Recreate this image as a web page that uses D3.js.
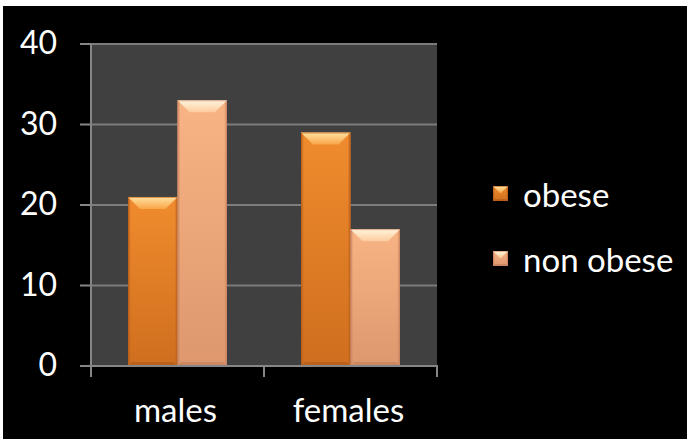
<!DOCTYPE html>
<html>
<head>
<meta charset="utf-8">
<script src="https://cdn.jsdelivr.net/npm/d3@7"></script>
<style>
  html, body { margin: 0; padding: 0; background: #ffffff; }
  svg { display: block; }
  text { font-family: Lato, "Open Sans", sans-serif; fill: #ffffff; }
</style>
</head>
<body>
<svg id="chart" width="687" height="441"></svg>
<script>
// ---- data ----
const categories = ["males", "females"];
const seriesNames = ["obese", "non obese"];
const obeseValues = [21, 29];
const nonObeseValues = [33, 17];
const yTickValues = [0, 10, 20, 30, 40];

const seriesValues = [obeseValues, nonObeseValues];

// ---- styles ----
const palettes = [
  { // obese
    bodyTop: "#F08C2E", bodyBot: "#CF6E1E",
    bevTop: "#FFE2A0", bevBot: "#F9A548",
    bottom: "#A9561A", edge: "#B95E1A"
  },
  { // non obese
    bodyTop: "#F8B484", bodyBot: "#DE976E",
    bevTop: "#FFF5DC", bevBot: "#FDCB9E",
    bottom: "#BD7B58", edge: "#C98460"
  }
];

const svg = d3.select("#chart");
const W = 687, H = 441;
const plot = { left: 91, right: 437, top: 44, bottom: 366 };

// background
svg.append("rect").attr("x", 3).attr("y", 6).attr("width", W - 3).attr("height", H - 8).attr("fill", "#000000");
svg.append("rect").attr("x", plot.left).attr("y", plot.top)
  .attr("width", plot.right - plot.left).attr("height", plot.bottom - plot.top)
  .attr("fill", "#404040");

// scales
const y = d3.scaleLinear().domain([0, 40]).range([plot.bottom, plot.top]);
const x0 = d3.scaleBand().domain(categories).range([plot.left, plot.right])
  .paddingInner(0.428).paddingOuter(0.214);
const x1 = d3.scaleBand().domain(seriesNames).range([0, x0.bandwidth()]).padding(0);
const xFull = d3.scaleBand().domain(categories).range([plot.left, plot.right]).padding(0);

// defs gradients
const defs = svg.append("defs");
palettes.forEach((p, i) => {
  const g1 = defs.append("linearGradient").attr("id", "body" + i).attr("x1", 0).attr("y1", 0).attr("x2", 0).attr("y2", 1);
  g1.append("stop").attr("offset", "0%").attr("stop-color", p.bodyTop);
  g1.append("stop").attr("offset", "100%").attr("stop-color", p.bodyBot);
  const g2 = defs.append("linearGradient").attr("id", "bev" + i).attr("x1", 0).attr("y1", 0).attr("x2", 0).attr("y2", 1);
  g2.append("stop").attr("offset", "0%").attr("stop-color", p.bevTop);
  g2.append("stop").attr("offset", "100%").attr("stop-color", p.bevBot);
  const g3 = defs.append("linearGradient").attr("id", "side" + i).attr("x1", 0).attr("y1", 0).attr("x2", 1).attr("y2", 0);
  g3.append("stop").attr("offset", "0%").attr("stop-color", p.edge).attr("stop-opacity", 0.8);
  g3.append("stop").attr("offset", "100%").attr("stop-color", p.edge).attr("stop-opacity", 0);
});

// gridlines
svg.append("g").selectAll("line").data(yTickValues.filter(v => v > 0)).join("line")
  .attr("x1", plot.left).attr("x2", plot.right)
  .attr("y1", d => y(d)).attr("y2", d => y(d))
  .attr("stroke", "#7c7c7c").attr("stroke-width", 2);

// bevelled bar drawing
function bevelBar(g, x, yt, w, h, i, b, side, bot) {
  const p = palettes[i];
  g.append("rect").attr("x", x).attr("y", yt).attr("width", w).attr("height", h).attr("fill", `url(#body${i})`);
  // left and right side bevels
  g.append("rect").attr("x", x).attr("y", yt).attr("width", side).attr("height", h).attr("fill", `url(#side${i})`);
  g.append("rect").attr("x", x + w - side).attr("y", yt).attr("width", side).attr("height", h)
    .attr("fill", `url(#side${i})`).attr("transform", `rotate(180 ${x + w - side / 2} ${yt + h / 2})`);
  // bottom bevel
  g.append("polygon")
    .attr("points", [[x, yt + h], [x + w, yt + h], [x + w - bot, yt + h - bot], [x + bot, yt + h - bot]].map(q => q.join(",")).join(" "))
    .attr("fill", p.bottom).attr("opacity", 0.55);
  // top bevel
  g.append("polygon")
    .attr("points", [[x, yt], [x + w, yt], [x + w - b, yt + b], [x + b, yt + b]].map(q => q.join(",")).join(" "))
    .attr("fill", `url(#bev${i})`);
  // outline
  g.append("rect").attr("x", x + 0.5).attr("y", yt + 0.5).attr("width", w - 1).attr("height", h - 1)
    .attr("fill", "none").attr("stroke", p.edge).attr("stroke-width", 1).attr("opacity", 0.6);
}

const barsG = svg.append("g");
categories.forEach((c, ci) => {
  seriesNames.forEach((s, si) => {
    const v = seriesValues[si][ci];
    const bx = x0(c) + x1(s);
    const bw = x1.bandwidth();
    const yt = y(v), h = y(0) - y(v);
    bevelBar(barsG.append("g"), bx, yt, bw, h, si, 12, 3, 4);
  });
});

// y axis line
svg.append("line").attr("x1", plot.left).attr("x2", plot.left).attr("y1", plot.top).attr("y2", plot.bottom)
  .attr("stroke", "#868686").attr("stroke-width", 2);
// y ticks
svg.append("g").selectAll("line").data(yTickValues).join("line")
  .attr("x1", plot.left - 11).attr("x2", plot.left)
  .attr("y1", d => y(d)).attr("y2", d => y(d))
  .attr("stroke", "#868686").attr("stroke-width", 2);
// y labels
svg.append("g").selectAll("text").data(yTickValues).join("text")
  .attr("x", 57).attr("y", d => y(d) + 10)
  .attr("text-anchor", "end").attr("font-size", 32)
  .text(d => d);

// x axis line
svg.append("line").attr("x1", plot.left - 1).attr("x2", plot.right + 1).attr("y1", plot.bottom).attr("y2", plot.bottom)
  .attr("stroke", "#868686").attr("stroke-width", 2);
// x ticks at category boundaries
const boundaries = categories.map(c => xFull(c)).concat([xFull(categories[categories.length - 1]) + xFull.bandwidth()]);
svg.append("g").selectAll("line").data(boundaries).join("line")
  .attr("x1", d => d).attr("x2", d => d).attr("y1", plot.bottom).attr("y2", plot.bottom + 11)
  .attr("stroke", "#868686").attr("stroke-width", 2);
// x labels
svg.append("g").selectAll("text").data(categories).join("text")
  .attr("x", c => xFull(c) + xFull.bandwidth() / 2 - 2).attr("y", 422)
  .attr("text-anchor", "middle").attr("font-size", 33)
  .text(c => c);

// legend
const legendY = [186, 251];
const legG = svg.append("g");
seriesNames.forEach((s, i) => {
  bevelBar(legG.append("g"), 493, legendY[i], 15, 15, i, 7, 2, 2);
  legG.append("text").attr("x", 523).attr("y", legendY[i] + 21)
    .attr("font-size", 33).text(s);
});
</script>
</body>
</html>
